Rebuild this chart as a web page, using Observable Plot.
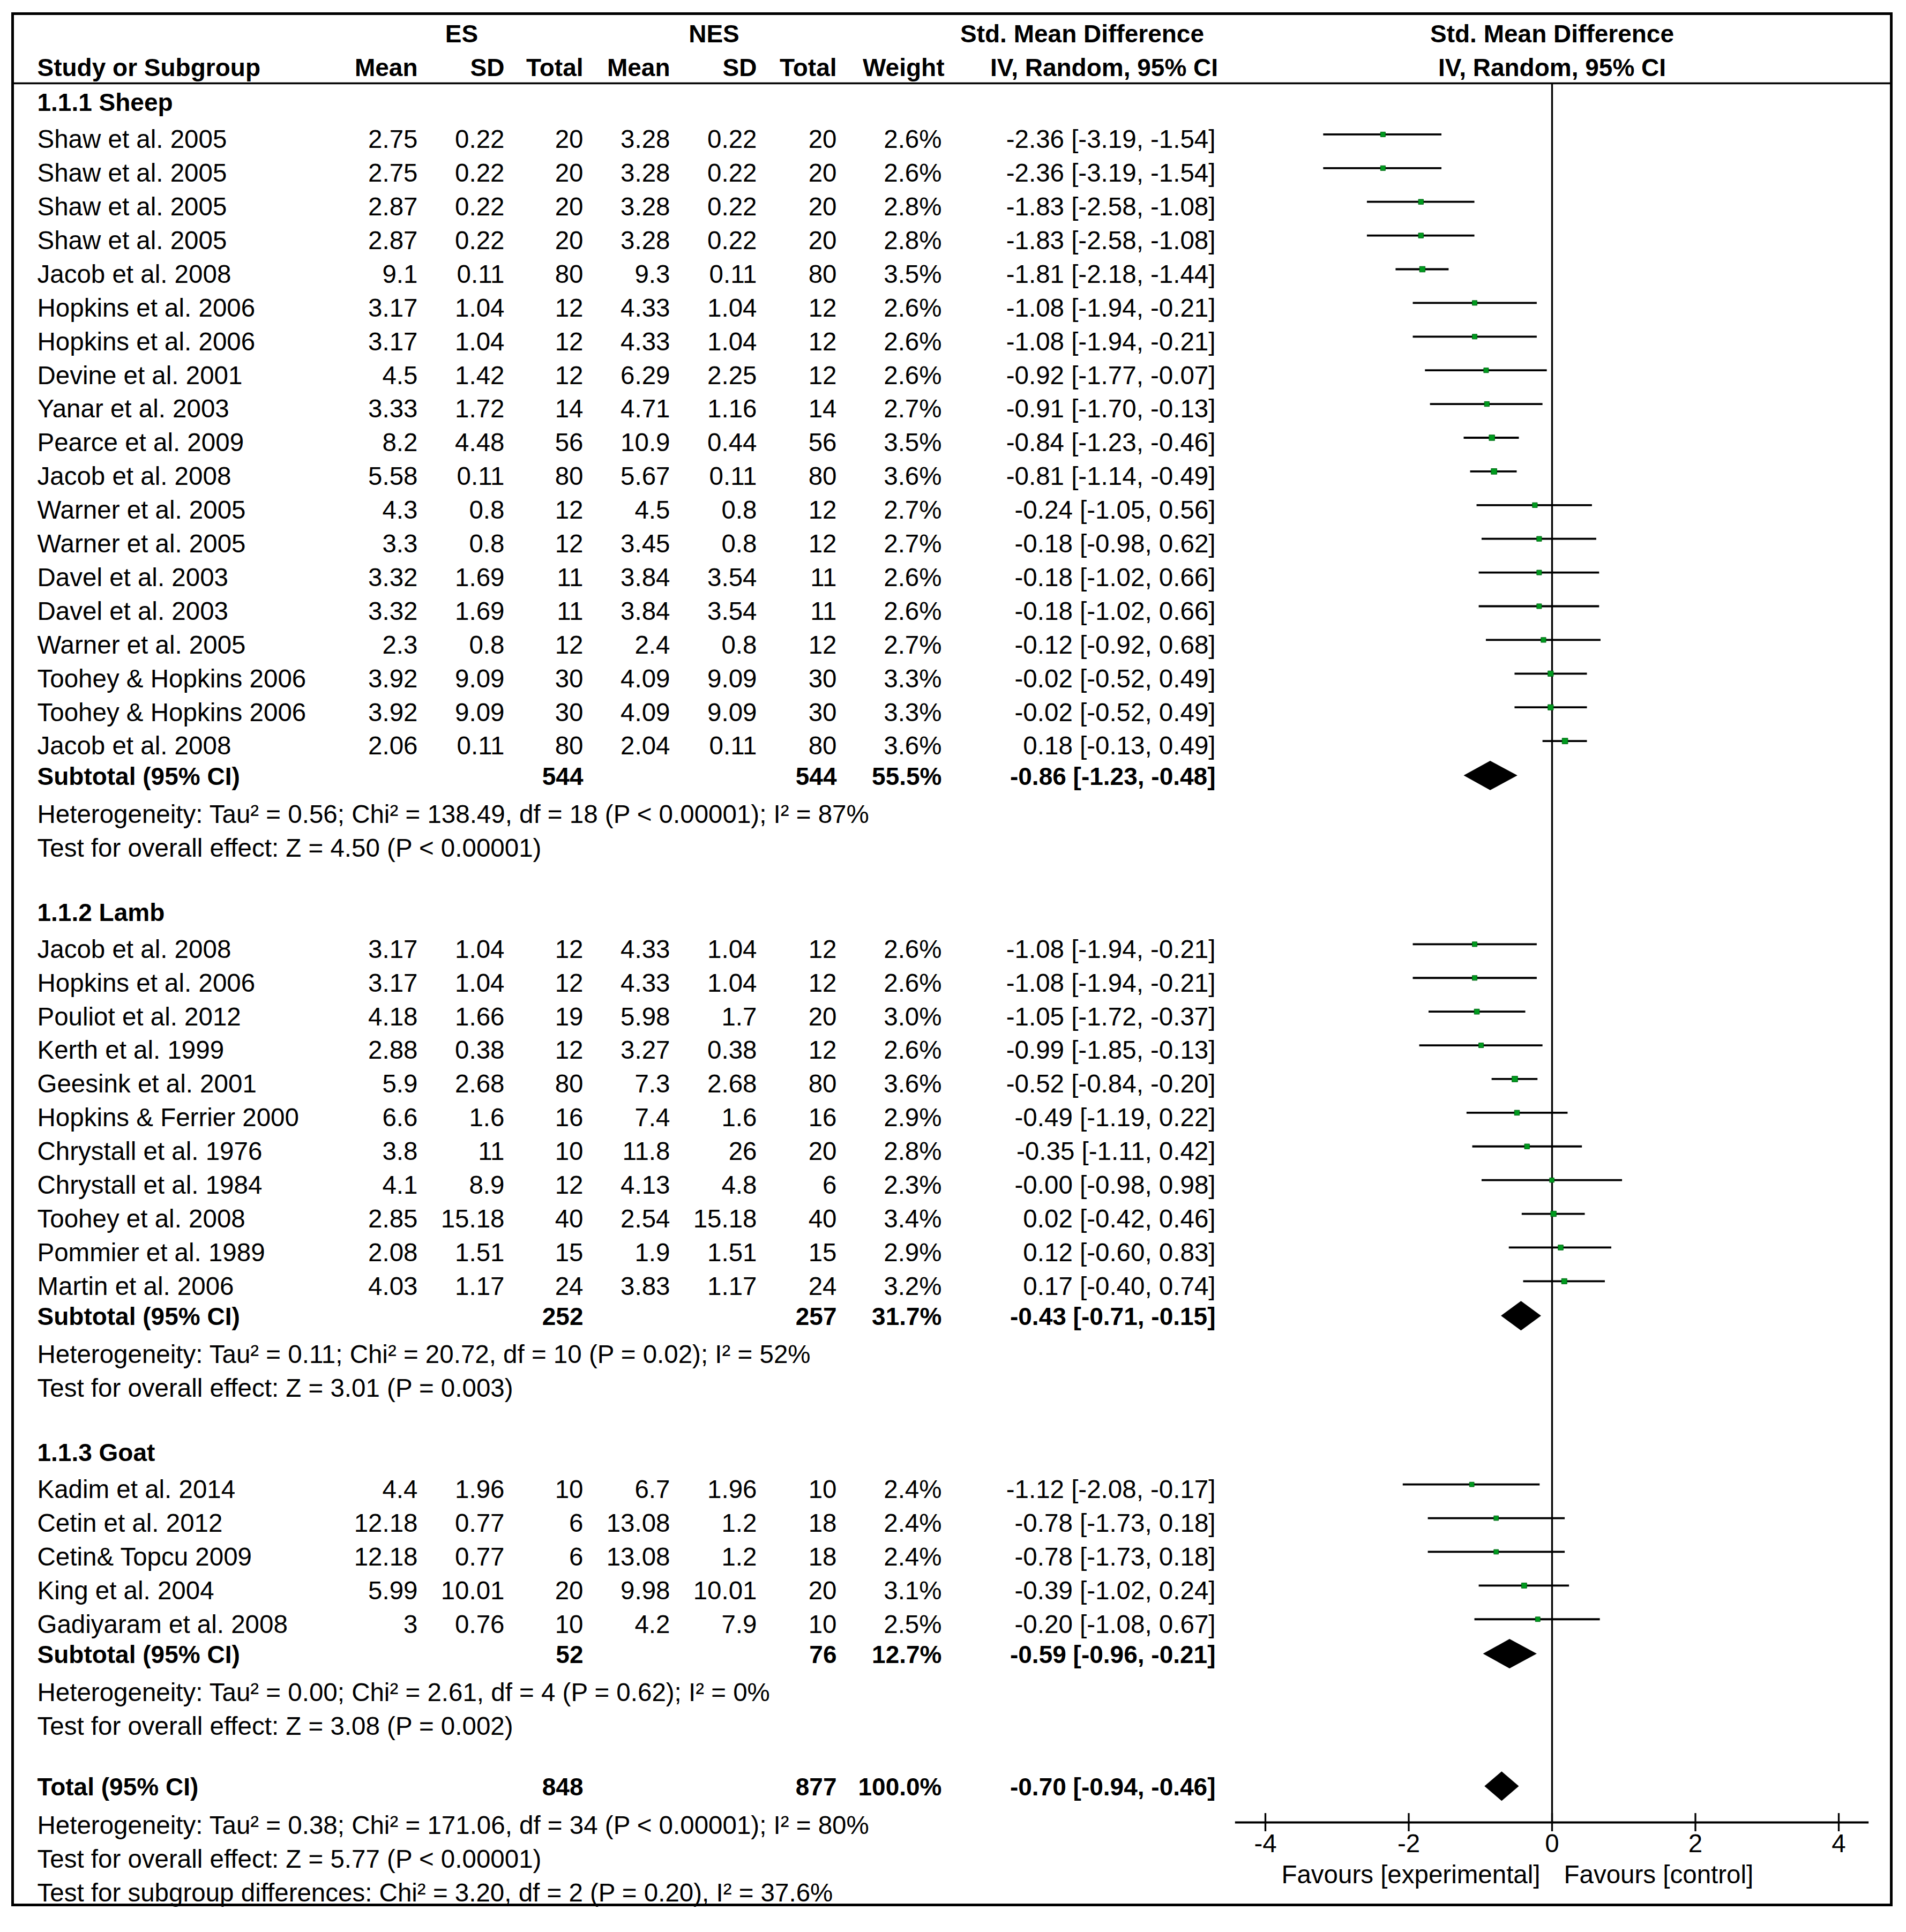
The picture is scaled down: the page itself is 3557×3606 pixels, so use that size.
<!DOCTYPE html>
<html>
<head>
<meta charset="utf-8">
<script src="https://cdn.jsdelivr.net/npm/d3@7"></script>
<script src="https://cdn.jsdelivr.net/npm/@observablehq/plot@0.6"></script>
<style>
  html, body { margin: 0; padding: 0; background: #fff; }
  #chart svg { display: block; }
</style>
</head>
<body>
<div id="chart"></div>
<script>
// ---------------- DATA ----------------
const groupNames = ["1.1.1 Sheep", "1.1.2 Lamb", "1.1.3 Goat"];
const studyGroup = [0,0,0,0,0,0,0,0,0,0,0,0,0,0,0,0,0,0,0, 1,1,1,1,1,1,1,1,1,1,1, 2,2,2,2,2];
const studyNames = [
  "Shaw et al. 2005","Shaw et al. 2005","Shaw et al. 2005","Shaw et al. 2005","Jacob et al. 2008",
  "Hopkins et al. 2006","Hopkins et al. 2006","Devine et al. 2001","Yanar et al. 2003","Pearce et al. 2009",
  "Jacob et al. 2008","Warner et al. 2005","Warner et al. 2005","Davel et al. 2003","Davel et al. 2003",
  "Warner et al. 2005","Toohey & Hopkins 2006","Toohey & Hopkins 2006","Jacob et al. 2008",
  "Jacob et al. 2008","Hopkins et al. 2006","Pouliot et al. 2012","Kerth et al. 1999","Geesink et al. 2001",
  "Hopkins & Ferrier 2000","Chrystall et al. 1976","Chrystall et al. 1984","Toohey et al. 2008","Pommier et al. 1989",
  "Martin et al. 2006",
  "Kadim et al. 2014","Cetin et al. 2012","Cetin& Topcu 2009","King et al. 2004","Gadiyaram et al. 2008"
];
const esMean   = [2.75,2.75,2.87,2.87,9.1,3.17,3.17,4.5,3.33,8.2,5.58,4.3,3.3,3.32,3.32,2.3,3.92,3.92,2.06, 3.17,3.17,4.18,2.88,5.9,6.6,3.8,4.1,2.85,2.08,4.03, 4.4,12.18,12.18,5.99,3];
const esSD     = [0.22,0.22,0.22,0.22,0.11,1.04,1.04,1.42,1.72,4.48,0.11,0.8,0.8,1.69,1.69,0.8,9.09,9.09,0.11, 1.04,1.04,1.66,0.38,2.68,1.6,11,8.9,15.18,1.51,1.17, 1.96,0.77,0.77,10.01,0.76];
const esTotal  = [20,20,20,20,80,12,12,12,14,56,80,12,12,11,11,12,30,30,80, 12,12,19,12,80,16,10,12,40,15,24, 10,6,6,20,10];
const nesMean  = [3.28,3.28,3.28,3.28,9.3,4.33,4.33,6.29,4.71,10.9,5.67,4.5,3.45,3.84,3.84,2.4,4.09,4.09,2.04, 4.33,4.33,5.98,3.27,7.3,7.4,11.8,4.13,2.54,1.9,3.83, 6.7,13.08,13.08,9.98,4.2];
const nesSD    = [0.22,0.22,0.22,0.22,0.11,1.04,1.04,2.25,1.16,0.44,0.11,0.8,0.8,3.54,3.54,0.8,9.09,9.09,0.11, 1.04,1.04,1.7,0.38,2.68,1.6,26,4.8,15.18,1.51,1.17, 1.96,1.2,1.2,10.01,7.9];
const nesTotal = [20,20,20,20,80,12,12,12,14,56,80,12,12,11,11,12,30,30,80, 12,12,20,12,80,16,20,6,40,15,24, 10,18,18,20,10];
const weights  = [2.6,2.6,2.8,2.8,3.5,2.6,2.6,2.6,2.7,3.5,3.6,2.7,2.7,2.6,2.6,2.7,3.3,3.3,3.6, 2.6,2.6,3.0,2.6,3.6,2.9,2.8,2.3,3.4,2.9,3.2, 2.4,2.4,2.4,3.1,2.5];
const smd      = [-2.36,-2.36,-1.83,-1.83,-1.81,-1.08,-1.08,-0.92,-0.91,-0.84,-0.81,-0.24,-0.18,-0.18,-0.18,-0.12,-0.02,-0.02,0.18, -1.08,-1.08,-1.05,-0.99,-0.52,-0.49,-0.35,-0.003,0.02,0.12,0.17, -1.12,-0.78,-0.78,-0.39,-0.20];
const ciLow    = [-3.19,-3.19,-2.58,-2.58,-2.18,-1.94,-1.94,-1.77,-1.70,-1.23,-1.14,-1.05,-0.98,-1.02,-1.02,-0.92,-0.52,-0.52,-0.13, -1.94,-1.94,-1.72,-1.85,-0.84,-1.19,-1.11,-0.98,-0.42,-0.60,-0.40, -2.08,-1.73,-1.73,-1.02,-1.08];
const ciHigh   = [-1.54,-1.54,-1.08,-1.08,-1.44,-0.21,-0.21,-0.07,-0.13,-0.46,-0.49,0.56,0.62,0.66,0.66,0.68,0.49,0.49,0.49, -0.21,-0.21,-0.37,-0.13,-0.20,0.22,0.42,0.98,0.46,0.83,0.74, -0.17,0.18,0.18,0.24,0.67];

const subEsTotal  = [544, 252, 52];
const subNesTotal = [544, 257, 76];
const subWeight   = [55.5, 31.7, 12.7];
const subSmd      = [-0.86, -0.43, -0.59];
const subLow      = [-1.23, -0.71, -0.96];
const subHigh     = [-0.48, -0.15, -0.21];
const subHeterogeneity = [
  "Heterogeneity: Tau² = 0.56; Chi² = 138.49, df = 18 (P < 0.00001); I² = 87%",
  "Heterogeneity: Tau² = 0.11; Chi² = 20.72, df = 10 (P = 0.02); I² = 52%",
  "Heterogeneity: Tau² = 0.00; Chi² = 2.61, df = 4 (P = 0.62); I² = 0%"
];
const subOverall = [
  "Test for overall effect: Z = 4.50 (P < 0.00001)",
  "Test for overall effect: Z = 3.01 (P = 0.003)",
  "Test for overall effect: Z = 3.08 (P = 0.002)"
];
const totalEs = 848, totalNes = 877, totalWeight = 100.0;
const totalSmd = -0.70, totalLow = -0.94, totalHigh = -0.46;
const totalLines = [
  "Heterogeneity: Tau² = 0.38; Chi² = 171.06, df = 34 (P < 0.00001); I² = 80%",
  "Test for overall effect: Z = 5.77 (P < 0.00001)",
  "Test for subgroup differences: Chi² = 3.20, df = 2 (P = 0.20), I² = 37.6%"
];
const subtotalLabel = "Subtotal (95% CI)";
const totalLabel = "Total (95% CI)";
const headerTop = ["ES", "NES", "Std. Mean Difference"];
const headerBottom = ["Study or Subgroup", "Mean", "SD", "Total", "Mean", "SD", "Total", "Weight", "IV, Random, 95% CI"];
const plotHeader = ["Std. Mean Difference", "IV, Random, 95% CI"];
const xTicks = [-4, -2, 0, 2, 4];
const favourLabels = ["Favours [experimental]", "Favours [control]"];

// ---------------- LAYOUT ----------------
const W = 3557, H = 3606, FS = 47.5, FSB = 46;
const M = {top: 25, right: 28, bottom: 51, left: 23};
const COLS = {
  name:     {x: 69,   anchor: "start"},
  esMean:   {x: 779,  anchor: "end"},
  esSD:     {x: 941,  anchor: "end"},
  esTotal:  {x: 1088, anchor: "end"},
  nesMean:  {x: 1250, anchor: "end"},
  nesSD:    {x: 1412, anchor: "end"},
  nesTotal: {x: 1561, anchor: "end"},
  weight:   {x: 1757, anchor: "end"},
  ci:       {x: 2268, anchor: "end"},
  hWeight:  {x: 1762, anchor: "end"},
  hIV:      {x: 2060, anchor: "middle"},
  hES:      {x: 861,  anchor: "middle"},
  hNES:     {x: 1332, anchor: "middle"},
  hSMD:     {x: 2019, anchor: "middle"}
};
const L = {
  hdr1: -2.035, hdr2: -1.033, hdrRule: -0.556,
  titleToRow: 1.09, row: 1, rowToSub: 0.9, subToHet: 1.13, line: 1,
  testToTitle: 1.91, testToTotal: 1.8, totalToHet: 1.145,
  lineOff: 0.13, diamondHalf: 0.437,
  axisBelowTotal: 1.07, tickHalf: 0.27, tickLabel: 0.64, favour: 1.56,
  axisExtent: 4.42
};

const fmtCI = (e, lo, hi) => `${e.toFixed(2)} [${lo.toFixed(2)}, ${hi.toFixed(2)}]`;
const fmtW = w => w.toFixed(1) + "%";

const cells = [];
const studyRows = [];
const diamondRows = [];

// headers
cells.push({u: L.hdr1, col: "hES", text: headerTop[0], bold: true});
cells.push({u: L.hdr1, col: "hNES", text: headerTop[1], bold: true});
cells.push({u: L.hdr1, col: "hSMD", text: headerTop[2], bold: true});
["name","esMean","esSD","esTotal","nesMean","nesSD","nesTotal","hWeight","hIV"].forEach((c, k) =>
  cells.push({u: L.hdr2, col: c, text: headerBottom[k], bold: true}));

let u = 0;
groupNames.forEach((g, gi) => {
  if (gi > 0) u += L.testToTitle;
  cells.push({u, col: "name", text: g, bold: true});
  u += L.titleToRow;
  const idx = studyNames.map((_, i) => i).filter(i => studyGroup[i] === gi);
  idx.forEach((i, k) => {
    if (k > 0) u += L.row;
    cells.push({u, col: "name", text: studyNames[i], bold: false});
    cells.push({u, col: "esMean", text: String(esMean[i]), bold: false});
    cells.push({u, col: "esSD", text: String(esSD[i]), bold: false});
    cells.push({u, col: "esTotal", text: String(esTotal[i]), bold: false});
    cells.push({u, col: "nesMean", text: String(nesMean[i]), bold: false});
    cells.push({u, col: "nesSD", text: String(nesSD[i]), bold: false});
    cells.push({u, col: "nesTotal", text: String(nesTotal[i]), bold: false});
    cells.push({u, col: "weight", text: fmtW(weights[i]), bold: false});
    cells.push({u, col: "ci", text: fmtCI(smd[i], ciLow[i], ciHigh[i]), bold: false});
    studyRows.push({y: u - L.lineOff, smd: smd[i], lo: ciLow[i], hi: ciHigh[i], w: weights[i]});
  });
  u += L.rowToSub;
  cells.push({u, col: "name", text: subtotalLabel, bold: true});
  cells.push({u, col: "esTotal", text: String(subEsTotal[gi]), bold: true});
  cells.push({u, col: "nesTotal", text: String(subNesTotal[gi]), bold: true});
  cells.push({u, col: "weight", text: fmtW(subWeight[gi]), bold: true});
  cells.push({u, col: "ci", text: fmtCI(subSmd[gi], subLow[gi], subHigh[gi]), bold: true});
  diamondRows.push({id: "g" + gi, y: u, est: subSmd[gi], lo: subLow[gi], hi: subHigh[gi]});
  u += L.subToHet;
  cells.push({u, col: "name", text: subHeterogeneity[gi], bold: false});
  u += L.line;
  cells.push({u, col: "name", text: subOverall[gi], bold: false});
});
u += L.testToTotal;
const totalU = u;
cells.push({u, col: "name", text: totalLabel, bold: true});
cells.push({u, col: "esTotal", text: String(totalEs), bold: true});
cells.push({u, col: "nesTotal", text: String(totalNes), bold: true});
cells.push({u, col: "weight", text: fmtW(totalWeight), bold: true});
cells.push({u, col: "ci", text: fmtCI(totalSmd, totalLow, totalHigh), bold: true});
diamondRows.push({id: "total", y: u, est: totalSmd, lo: totalLow, hi: totalHigh});
u += L.totalToHet;
totalLines.forEach((t, k) => {
  if (k > 0) u += L.line;
  cells.push({u, col: "name", text: t, bold: false});
});
const axisU = totalU + L.axisBelowTotal;

const diamondPts = diamondRows.flatMap(d => [
  {id: d.id, x: d.lo, y1: d.y, y2: d.y},
  {id: d.id, x: d.est, y1: d.y - L.diamondHalf, y2: d.y + L.diamondHalf},
  {id: d.id, x: d.hi, y1: d.y, y2: d.y}
]);

// text marks per column / weight
const textMarks = [];
Object.keys(COLS).forEach(col => {
  [false, true].forEach(bold => {
    const sub = cells.filter(c => c.col === col && c.bold === bold);
    if (!sub.length) return;
    textMarks.push(Plot.text(sub, {
      y: "u", text: "text", frameAnchor: "left",
      dx: COLS[col].x - M.left, dy: 2,
      textAnchor: COLS[col].anchor,
      fontSize: bold ? FSB : FS, fontWeight: bold ? "bold" : "normal", fill: "#000"
    }));
  });
});

const chart = Plot.plot({
  width: W, height: H,
  marginTop: M.top, marginRight: M.right, marginBottom: M.bottom, marginLeft: M.left,
  style: {fontFamily: "'Liberation Sans', Arial, sans-serif", background: "#fff"},
  x: {domain: [-4, 4], range: [2361, 3431], axis: null},
  y: {domain: [0, 1], range: [190, 252.9], axis: null},
  r: {type: "sqrt", domain: [0, 3.6], range: [0, 6.0]},
  marks: [
    Plot.frame({stroke: "#000", strokeWidth: 5}),
    Plot.ruleY([L.hdrRule], {y: d => d, stroke: "#000", strokeWidth: 3.5}),
    Plot.ruleX([0], {x: d => d, y1: L.hdrRule, y2: axisU, stroke: "#000", strokeWidth: 3.3}),
    ...textMarks,
    Plot.text(plotHeader, {x: 0, y: (d, i) => i === 0 ? L.hdr1 : L.hdr2, text: d => d, dy: 2,
      fontSize: FSB, fontWeight: "bold", fill: "#000"}),
    Plot.ruleY(studyRows, {y: "y", x1: "lo", x2: "hi", stroke: "#000", strokeWidth: 3.8}),
    Plot.dot(studyRows, {x: "smd", y: "y", r: "w", symbol: "square", fill: "#009a1e", stroke: "#006414", strokeWidth: 1}),
    Plot.areaY(diamondPts, {x: "x", y1: "y1", y2: "y2", z: "id", fill: "#000", curve: "linear"}),
    Plot.ruleY([axisU], {y: d => d, x1: -L.axisExtent, x2: L.axisExtent, stroke: "#000", strokeWidth: 4}),
    Plot.ruleX(xTicks, {x: d => d, y1: axisU - L.tickHalf, y2: axisU + L.tickHalf, stroke: "#000", strokeWidth: 3.3}),
    Plot.text(xTicks, {x: d => d, y: axisU + L.tickLabel, text: d => String(d), fontSize: FS, fill: "#000"}),
    Plot.text([favourLabels[0]], {x: 0, y: axisU + L.favour, text: d => d, dx: -22, textAnchor: "end", fontSize: FS, fill: "#000"}),
    Plot.text([favourLabels[1]], {x: 0, y: axisU + L.favour, text: d => d, dx: 22, textAnchor: "start", fontSize: FS, fill: "#000"})
  ]
});
document.getElementById("chart").appendChild(chart);
</script>
</body>
</html>
